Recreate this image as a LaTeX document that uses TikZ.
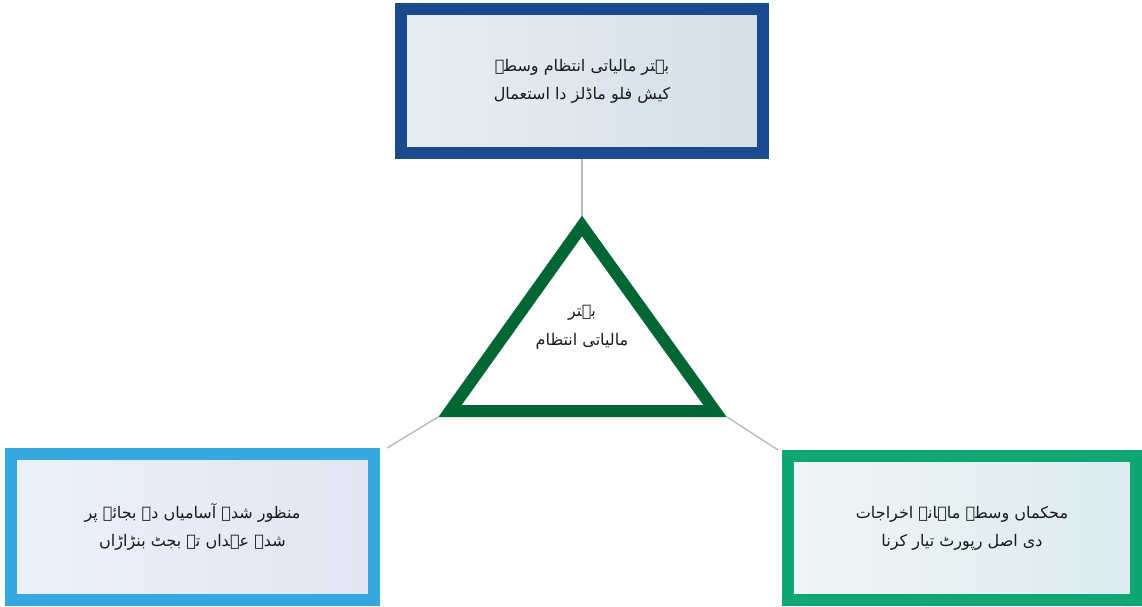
\documentclass[tikz,border=0pt]{standalone}
\usepackage{fontspec}
\newfontfamily\arabicfont[Script=Arabic]{DejaVu Sans}
\TeXXeTstate=1
\usepackage{tikz}
\usetikzlibrary{positioning}
\definecolor{finInk}{HTML}{1A1A1A}
\definecolor{finBlue}{HTML}{1B4A8F}
\definecolor{finSky}{HTML}{35A8E0}
\definecolor{finMint}{HTML}{0EA672}
\definecolor{finGreen}{HTML}{006633}
\definecolor{finGray}{HTML}{BDBDBD}
\definecolor{topFillL}{HTML}{E8EDF4}
\definecolor{topFillR}{HTML}{D3DFE7}
\definecolor{leftFillL}{HTML}{EBF1FA}
\definecolor{leftFillR}{HTML}{E2E5F3}
\definecolor{rightFillL}{HTML}{F0F5F6}
\definecolor{rightFillR}{HTML}{DAEBF0}
\tikzset{
  every picture/.style={text=finInk},
  fin box/.style={rectangle, line width=12pt, align=center,
    font=\arabicfont\fontsize{16}{28}\selectfont},
  fin tri/.style={draw=finGreen, line width=12pt, line join=miter},
  fin label/.style={align=center, font=\arabicfont\fontsize{16}{29}\selectfont},
  fin link/.style={draw=finGray, line width=1.5pt}
}

\begin{document}
\begin{tikzpicture}[x=1pt,y=-1pt]
  \useasboundingbox (0,0) rectangle (1142,606);
  % three outer boxes
  \node[fin box, draw=finBlue, left color=topFillL, right color=topFillR,
    minimum width=362pt, minimum height=144pt] (top) at (582,81)
    {\beginR بہتر مالیاتی انتظام وسطے\endR\\\beginR کیش فلو ماڈلز دا استعمال\endR};
  \node[fin box, draw=finSky, left color=leftFillL, right color=leftFillR,
    minimum width=363pt, minimum height=146pt] (left) at (192.5,527)
    {\beginR منظور شدہ آسامیاں دے بجائے پر\endR\\\beginR شدہ عہداں تے بجٹ بنڑاڑاں\endR};
  \node[fin box, draw=finMint, left color=rightFillL, right color=rightFillR,
    minimum width=348pt, minimum height=144pt] (right) at (962,528)
    {\beginR محکماں وسطے ماہانہ اخراجات\endR\\\beginR دی اصل رپورٹ تیار کرنا\endR};
  % central triangle
  \draw[fin tri] (582,226) -- (715,411) -- (450,411) -- cycle;
  \coordinate (triTop) at (582,216);
  \coordinate (triLeft) at (438,417);
  \coordinate (triRight) at (727,417);
  \node[fin label] (core) at (582,327) {\beginR بہتر\endR\\\beginR مالیاتی انتظام\endR};
  % links
  \draw[fin link] (top.south) -- (triTop);
  \draw[fin link] ([xshift=7pt]left.north east) -- (triLeft);
  \draw[fin link] (triRight) -- ([xshift=-4pt]right.north west);
\end{tikzpicture}
\end{document}
